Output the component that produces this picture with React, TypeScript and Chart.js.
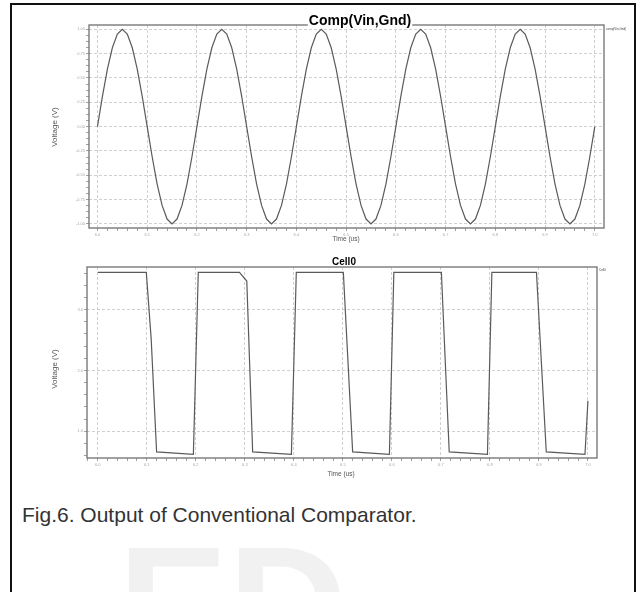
import React, { useEffect, useRef } from "react";
import { Chart, registerables } from "chart.js";

Chart.register(...registerables);

// ---- Data ----
const sineTime = [
  6.0, 6.01, 6.02, 6.03, 6.04, 6.05, 6.06, 6.07, 6.08, 6.09,
  6.1, 6.11, 6.12, 6.13, 6.14, 6.15, 6.16, 6.17, 6.18, 6.19,
  6.2, 6.21, 6.22, 6.23, 6.24, 6.25, 6.26, 6.27, 6.28, 6.29,
  6.3, 6.31, 6.32, 6.33, 6.34, 6.35, 6.36, 6.37, 6.38, 6.39,
  6.4, 6.41, 6.42, 6.43, 6.44, 6.45, 6.46, 6.47, 6.48, 6.49,
  6.5, 6.51, 6.52, 6.53, 6.54, 6.55, 6.56, 6.57, 6.58, 6.59,
  6.6, 6.61, 6.62, 6.63, 6.64, 6.65, 6.66, 6.67, 6.68, 6.69,
  6.7, 6.71, 6.72, 6.73, 6.74, 6.75, 6.76, 6.77, 6.78, 6.79,
  6.8, 6.81, 6.82, 6.83, 6.84, 6.85, 6.86, 6.87, 6.88, 6.89,
  6.9, 6.91, 6.92, 6.93, 6.94, 6.95, 6.96, 6.97, 6.98, 6.99,
  7.0,
];
const sineVolts = [
  0.0, 0.31, 0.59, 0.81, 0.95, 1.0, 0.95, 0.81, 0.59, 0.31,
  0.0, -0.31, -0.59, -0.81, -0.95, -1.0, -0.95, -0.81, -0.59, -0.31,
  0.0, 0.31, 0.59, 0.81, 0.95, 1.0, 0.95, 0.81, 0.59, 0.31,
  0.0, -0.31, -0.59, -0.81, -0.95, -1.0, -0.95, -0.81, -0.59, -0.31,
  0.0, 0.31, 0.59, 0.81, 0.95, 1.0, 0.95, 0.81, 0.59, 0.31,
  0.0, -0.31, -0.59, -0.81, -0.95, -1.0, -0.95, -0.81, -0.59, -0.31,
  0.0, 0.31, 0.59, 0.81, 0.95, 1.0, 0.95, 0.81, 0.59, 0.31,
  0.0, -0.31, -0.59, -0.81, -0.95, -1.0, -0.95, -0.81, -0.59, -0.31,
  0.0, 0.31, 0.59, 0.81, 0.95, 1.0, 0.95, 0.81, 0.59, 0.31,
  0.0, -0.31, -0.59, -0.81, -0.95, -1.0, -0.95, -0.81, -0.59, -0.31,
  0.0,
];

const cellTime = [
  6.0, 6.099, 6.109, 6.12, 6.195, 6.205, 6.289, 6.304, 6.316, 6.395,
  6.405, 6.501, 6.52, 6.595, 6.604, 6.701, 6.717, 6.795, 6.804, 6.895,
  6.915, 6.994, 7.0,
];
const cellVolts = [
  3.61, 3.61, 2.51, 0.66, 0.62, 3.61, 3.61, 3.47, 0.66, 0.62,
  3.61, 3.61, 0.66, 0.62, 3.61, 3.61, 0.66, 0.62, 3.61, 3.61,
  0.66, 0.62, 1.5,
];

const timeMajorTicks = [6.0, 6.1, 6.2, 6.3, 6.4, 6.5, 6.6, 6.7, 6.8, 6.9, 7.0];
const compVoltMajorTicks = [-1.0, -0.75, -0.5, -0.25, 0.0, 0.25, 0.5, 0.75, 1.0];
const cellVoltMajorTicks = [1.0, 2.0, 3.0];

const FONT = "'Liberation Sans', Arial, Helvetica, sans-serif";

function isMajor(v: number, majors: number[]) {
  return majors.some((m) => Math.abs(m - v) < 1e-6);
}

function makeScale(
  min: number,
  max: number,
  step: number,
  majors: number[],
  digits: number,
  fixedSize: number,
  horizontal: boolean
) {
  return {
    type: "linear",
    min,
    max,
    afterFit: (scale: any) => {
      if (horizontal) scale.height = fixedSize;
      else scale.width = fixedSize;
    },
    ticks: {
      stepSize: step,
      includeBounds: false,
      autoSkip: false,
      maxRotation: 0,
      minRotation: 0,
      padding: 1,
      color: "#a8a8a8",
      font: { size: 4, family: FONT },
      callback: (v: any) => {
        const n = Number(v);
        return isMajor(n, majors) ? n.toFixed(digits) : "";
      },
    },
    grid: {
      drawTicks: true,
      tickLength: 3,
      tickColor: "#8a8a8a",
      tickWidth: 0.8,
      lineWidth: 0.8,
      color: (ctx: any) =>
        ctx.tick && isMajor(ctx.tick.value, majors) ? "#c4c4c4" : "rgba(0,0,0,0)",
    },
    border: { display: false, dash: [3, 2] },
  };
}

function makeDecor(opts: {
  title: string;
  titleFont: string;
  titleX: number;
  titleY: number;
  titleGap: boolean;
  yLabelX: number;
  yLabelY: number;
  xLabelX: number;
  xLabelY: number;
  legendX: number;
  legendY: number;
  legend: string;
}) {
  return {
    id: "decor",
    afterDraw(chart: any) {
      const { ctx, chartArea: a } = chart;
      ctx.save();
      ctx.strokeStyle = "#7a7a7a";
      ctx.lineWidth = 1.4;
      ctx.strokeRect(a.left, a.top, a.right - a.left, a.bottom - a.top);

      ctx.font = opts.titleFont;
      const w = ctx.measureText(opts.title).width;
      if (opts.titleGap) {
        ctx.fillStyle = "#ffffff";
        ctx.fillRect(opts.titleX - w / 2 - 1, a.top - 2, w + 2, 4);
      }
      ctx.fillStyle = "#000000";
      ctx.textAlign = "center";
      ctx.textBaseline = "middle";
      ctx.fillText(opts.title, opts.titleX, opts.titleY);

      ctx.fillStyle = "#555555";
      ctx.font = `8px ${FONT}`;
      ctx.save();
      ctx.translate(opts.yLabelX, opts.yLabelY);
      ctx.rotate(-Math.PI / 2);
      ctx.fillText("Voltage (V)", 0, 0);
      ctx.restore();

      ctx.font = `6.5px ${FONT}`;
      ctx.fillText("Time (us)", opts.xLabelX, opts.xLabelY);

      ctx.font = `3px ${FONT}`;
      ctx.fillStyle = "#444444";
      ctx.textAlign = "left";
      ctx.fillText(opts.legend, opts.legendX, opts.legendY);
      ctx.restore();
    },
  };
}

function useChart(
  ref: React.RefObject<HTMLCanvasElement | null>,
  build: () => any
) {
  useEffect(() => {
    if (!ref.current) return;
    const chart = new Chart(ref.current, build());
    return () => chart.destroy();
  }, []);
}

export default function App() {
  const topRef = useRef<HTMLCanvasElement | null>(null);
  const botRef = useRef<HTMLCanvasElement | null>(null);

  useChart(topRef, () => ({
    type: "line",
    data: {
      datasets: [
        {
          label: "comp(Vin,Gnd)",
          data: sineTime.map((t, i) => ({ x: t, y: sineVolts[i] })),
          borderColor: "#5a5a5a",
          borderWidth: 1.2,
          pointRadius: 0,
          tension: 0,
        },
      ],
    },
    options: {
      responsive: false,
      animation: false,
      layout: { padding: { left: 0, top: 25, right: 40, bottom: 8 } },
      plugins: { legend: { display: false }, tooltip: { enabled: false } },
      scales: {
        x: makeScale(5.983, 7.0185, 0.02, timeMajorTicks, 1, 14, true),
        y: makeScale(-1.042, 1.044, 0.0625, compVoltMajorTicks, 2, 89, false),
      },
    },
    plugins: [
      makeDecor({
        title: "Comp(Vin,Gnd)",
        titleFont: `bold 14px ${FONT}`,
        titleX: 360,
        titleY: 21,
        titleGap: true,
        yLabelX: 55,
        yLabelY: 127,
        xLabelX: 346,
        xLabelY: 239,
        legend: "comp(Vin,Gnd)",
        legendX: 606,
        legendY: 29,
      }),
    ],
  }));

  useChart(botRef, () => ({
    type: "line",
    data: {
      datasets: [
        {
          label: "Cell0",
          data: cellTime.map((t, i) => ({ x: t, y: cellVolts[i] })),
          borderColor: "#5a5a5a",
          borderWidth: 1.2,
          pointRadius: 0,
          tension: 0,
        },
      ],
    },
    options: {
      responsive: false,
      animation: false,
      layout: { padding: { left: 0, top: 17, right: 47, bottom: 18 } },
      plugins: { legend: { display: false }, tooltip: { enabled: false } },
      scales: {
        x: makeScale(5.978, 7.0185, 0.02, timeMajorTicks, 1, 14, true),
        y: makeScale(0.56, 3.7, 0.2, cellVoltMajorTicks, 1, 87, false),
      },
    },
    plugins: [
      makeDecor({
        title: "Cell0",
        titleFont: `bold 10px ${FONT}`,
        titleX: 344,
        titleY: 12,
        titleGap: false,
        yLabelX: 55,
        yLabelY: 119,
        xLabelX: 341,
        xLabelY: 224,
        legend: "Cell0",
        legendX: 599,
        legendY: 20,
      }),
    ],
  }));

  return (
    <div
      style={{
        position: "absolute",
        left: 0,
        top: 0,
        width: 644,
        height: 592,
        overflow: "hidden",
        background: "#ffffff",
        fontFamily: FONT,
      }}
    >
      <div
        style={{
          position: "absolute",
          left: 118,
          top: 523,
          fontSize: 165,
          lineHeight: "165px",
          fontWeight: "bold",
          color: "#f1f1f1",
          whiteSpace: "nowrap",
        }}
      >
        ED
      </div>
      <canvas
        ref={topRef}
        width={644}
        height={250}
        style={{ position: "absolute", left: 0, top: 0 }}
      />
      <canvas
        ref={botRef}
        width={644}
        height={240}
        style={{ position: "absolute", left: 0, top: 250 }}
      />
      <div
        style={{
          position: "absolute",
          left: 22,
          top: 502,
          fontSize: 21,
          lineHeight: "26px",
          color: "#333333",
          whiteSpace: "nowrap",
        }}
      >
        Fig.6. Output of Conventional Comparator.
      </div>
      <div
        style={{
          position: "absolute",
          left: 10,
          top: 3,
          width: 626,
          height: 640,
          boxSizing: "border-box",
          border: "2px solid #111111",
        }}
      />
    </div>
  );
}
